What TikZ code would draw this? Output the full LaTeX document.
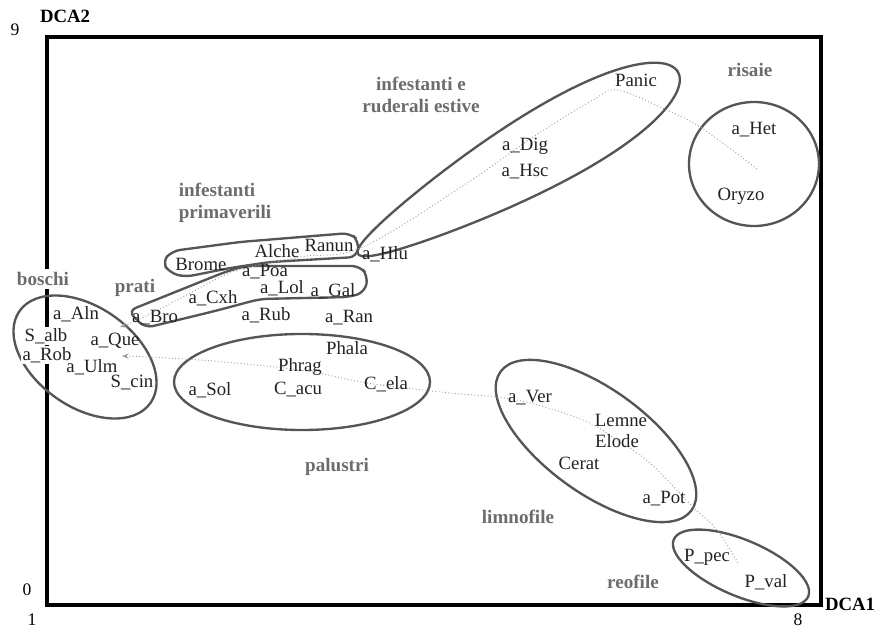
\documentclass[tikz,border=0pt]{standalone}
\usepackage{fontspec}
\setmainfont{Liberation Serif}
\usetikzlibrary{arrows.meta}
\definecolor{spgray}{HTML}{222222}
\definecolor{grpgray}{HTML}{6C6C6C}
\definecolor{rimgray}{HTML}{555555}
\tikzset{
  >={Stealth[length=2mm,width=1.6mm]},
  sp/.style   ={font=\fontsize{16}{18}\selectfont, text=spgray, inner sep=1pt},
  grp/.style  ={font=\fontsize{16.3}{18.5}\selectfont\bfseries, text=grpgray, inner sep=1pt},
  tick/.style ={font=\fontsize{15}{17}\selectfont, inner sep=1pt},
  axlab/.style={font=\fontsize{16}{18}\selectfont\bfseries, inner sep=1pt},
  hull/.style ={draw=rimgray, line width=2pt},
  trend/.style={draw=gray!75, dotted, line width=0.8pt, ->}
}
\begin{document}
\begin{tikzpicture}[x=0.03cm, y=-0.03cm]
\useasboundingbox (0,0) rectangle (877,629);
% frame
\draw[line width=3pt] (47,37) rectangle (821,605);
\node[axlab] (dca2) at (65,16) {DCA2};
\node[axlab] (dca1) at (850,604) {DCA1};
\node[tick] (y9) at (15,30) {9};
\node[tick] (y0) at (27,590) {0};
\node[tick] (x1) at (32,620) {1};
\node[tick] (x8) at (798,620) {8};

% group outlines
\draw[hull, rotate around={-35:(85,357)}] (85,357) ellipse [x radius=80, y radius=50];
\draw[hull] (302,382) ellipse [x radius=128, y radius=48];
\draw[hull] (754,164) ellipse [x radius=65, y radius=62];
\draw[hull, rotate around={-36:(596,441)}] (596,441) ellipse [x radius=118, y radius=52];
\draw[hull, rotate around={-23:(741,568)}] (741,568) ellipse [x radius=73, y radius=28];
\draw[hull, shift={(518,163)}, rotate=29.6]
  plot[domain=0:360, samples=120] ({184*cos(\x)}, {37*sin(\x)*(1+0.35*cos(\x))}) -- cycle;
\draw[hull, rounded corners=7pt]
  (170,273) -- (162,262) -- (172,251) -- (240,242) -- (350,233) -- (359,241)
  -- (357,257) -- (270,262) -- (230,268) -- (185,277) -- cycle;
\draw[hull, rounded corners=7pt]
  (128,311) -- (225,272) -- (245,266) -- (360,266) -- (368,276) -- (365,292)
  -- (350,297) -- (260,299) -- (215,311) -- (145,328) -- cycle;

% trends
\draw[trend] plot[smooth, tension=0.6] coordinates {(757,169) (700,127) (660,107) (617,90)
  (593,100) (533,137) (467,183) (363,247) (300,257) (233,272) (183,297) (140,319) (120,327)};
\draw[trend] plot[smooth, tension=0.6] coordinates {(738,563) (717,530) (693,507) (650,463)
  (617,440) (583,420) (517,400) (450,393) (367,383) (300,370) (200,360) (122,356)};

% groups
\node[grp, align=center] (estive) at (421,95) {infestanti e\\ruderali estive};
\node[grp] (risaie) at (750,70) {risaie};
\node[grp, align=left] (primav) at (225,203) {infestanti\\primaverili};
\node[grp, fill=white, inner sep=3pt] (boschi) at (43,279) {boschi};
\node[grp] (prati) at (135,288) {prati};
\node[grp] (palustri) at (337,467) {palustri};
\node[grp] (limno) at (518,517) {limnofile};
\node[grp] (reo) at (633,582) {reofile};

% species
\node[sp] (panic) at (636,80) {Panic};
\node[sp] (dig) at (525,146) {a\_Dig};
\node[sp] (hsc) at (525,172) {a\_Hsc};
\node[sp] (het) at (754,130) {a\_Het};
\node[sp] (oryzo) at (741,196) {Oryzo};
\node[sp] (ranun) at (329,245) {Ranun};
\node[sp] (hlu) at (385,254) {a\_Hlu};
\node[sp] (alche) at (277,251) {Alche};
\node[sp] (brome) at (201,264) {Brome};
\node[sp] (poa) at (265,272) {a\_Poa};
\node[sp] (cxh) at (213,298) {a\_Cxh};
\node[sp] (lol) at (282,288) {a\_Lol};
\node[sp] (gal) at (333,291) {a\_Gal};
\node[sp] (bro) at (155,318) {a\_Bro};
\node[sp] (rub) at (266,315) {a\_Rub};
\node[sp] (ran) at (349,318) {a\_Ran};
\node[sp] (aln) at (76,314) {a\_Aln};
\node[sp, fill=white] (salb) at (46,336) {S\_alb};
\node[sp, fill=white] (rob) at (47,355) {a\_Rob};
\node[sp] (que) at (115,341) {a\_Que};
\node[sp] (ulm) at (92,367) {a\_Ulm};
\node[sp] (scin) at (132,383) {S\_cin};
\node[sp] (phala) at (347,348) {Phala};
\node[sp] (phrag) at (300,367) {Phrag};
\node[sp] (sol) at (210,390) {a\_Sol};
\node[sp] (cacu) at (298,390) {C\_acu};
\node[sp] (cela) at (386,384) {C\_ela};
\node[sp] (ver) at (530,398) {a\_Ver};
\node[sp] (lemne) at (621,420) {Lemne};
\node[sp] (elode) at (617,441) {Elode};
\node[sp] (cerat) at (579,463) {Cerat};
\node[sp] (pot) at (664,499) {a\_Pot};
\node[sp] (ppec) at (707,557) {P\_pec};
\node[sp] (pval) at (766,582) {P\_val};
\end{tikzpicture}
\end{document}
